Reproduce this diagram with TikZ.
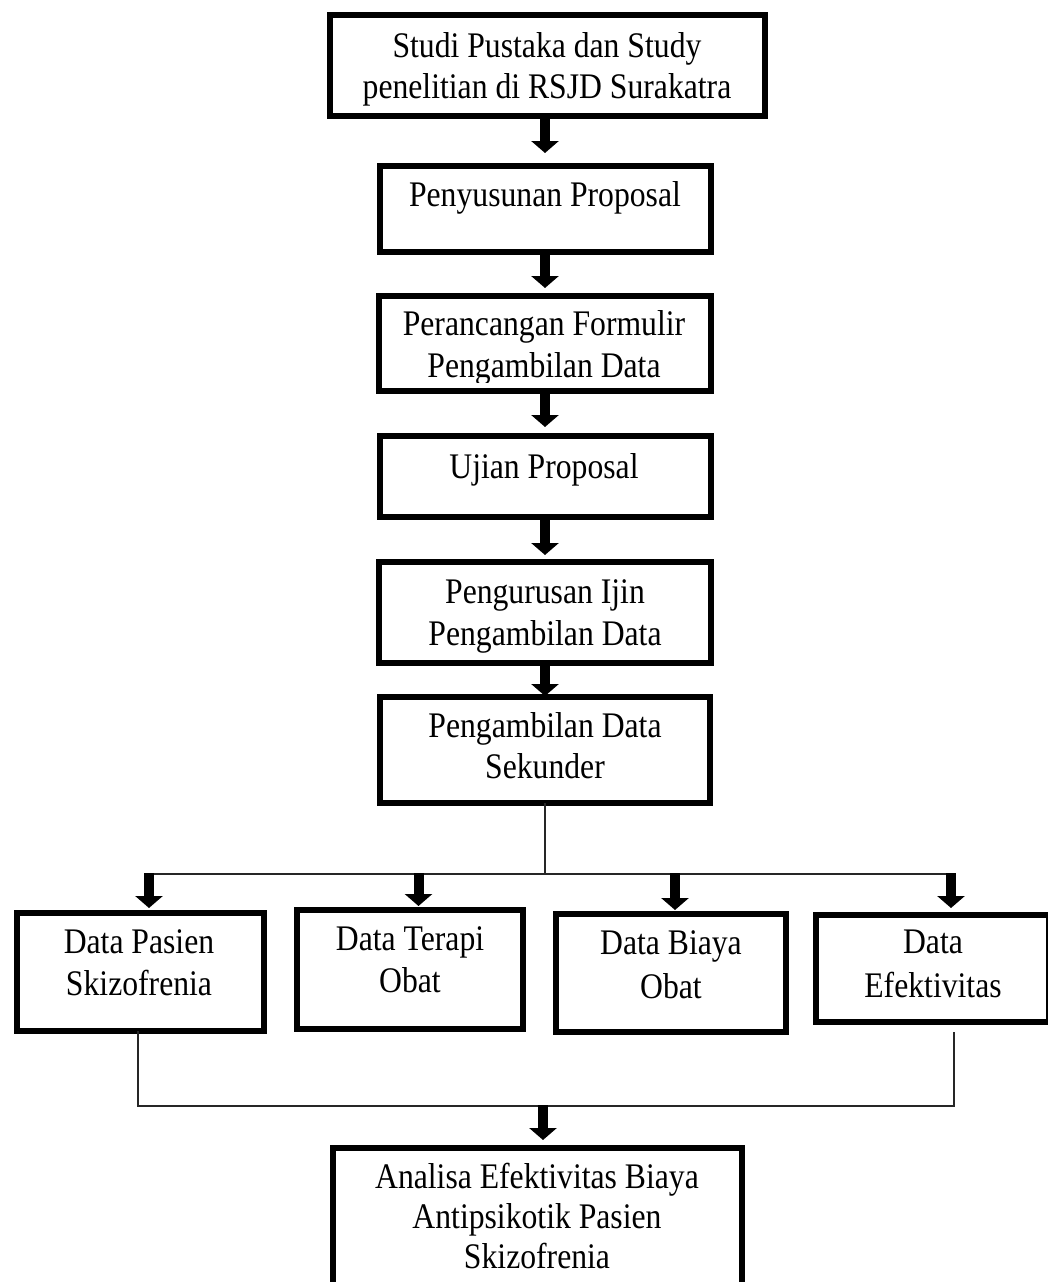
\documentclass[tikz,border=0pt]{standalone}
\usepackage{fontspec}
\setmainfont{Liberation Serif}[FakeStretch=0.88]
\usetikzlibrary{arrows.meta,calc}
\newcommand\mylines[1]{\begin{tabular}[t]{@{}c@{}}#1\end{tabular}}
\begin{document}
\begin{tikzpicture}[x=1pt,y=-1pt,
  box/.style={draw=black, line width=6pt, rectangle, inner sep=0pt, outer sep=0pt},
  txt/.style={anchor=base, inner sep=0pt, outer sep=0pt, font=\fontsize{36}{42}\selectfont},
  bigarrow/.style={line width=10pt, -{Triangle[width=27pt,length=12pt]}},
  thinline/.style={line width=1.6pt, draw=black!85}]
\useasboundingbox (0,0) rectangle (1047,1282);

% boxes
\node[box, minimum width=435pt, minimum height=101pt] (b1) at (547.5,65.5) {};
\node[box, minimum width=331pt, minimum height=86pt]  (b2) at (545,209) {};
\node[box, minimum width=332pt, minimum height=95pt]  (b3) at (545,343.5) {};
\node[box, minimum width=331pt, minimum height=81pt]  (b4) at (545,476.5) {};
\node[box, minimum width=332pt, minimum height=101pt] (b5) at (545,612.5) {};
\node[box, minimum width=330pt, minimum height=106pt] (b6) at (545,750) {};
\node[box, minimum width=247pt, minimum height=118pt] (bA) at (140.5,972) {};
\node[box, minimum width=226pt, minimum height=119pt] (bB) at (410,969.5) {};
\node[box, minimum width=230pt, minimum height=118pt] (bC) at (671,973) {};
\node[box, minimum width=233pt, minimum height=107pt] (bD) at (932.5,968.5) {};
\node[box, minimum width=409pt, minimum height=164pt] (bE) at (537.5,1230) {};

% texts
\node[txt, font=\fontsize{36}{41}\selectfont] (t1) at (547,57) {\mylines{Studi Pustaka dan Study\\penelitian di RSJD Surakatra}};
\node[txt] (t2) at (545,206) {Penyusunan Proposal};
\begin{scope}
  \clip (b3.north west) rectangle ($(b3.south east)+(0,-9)$);
  \node[txt] (t3) at (544,335) {\mylines{Perancangan Formulir\\Pengambilan Data}};
\end{scope}
\node[txt] (t4) at (544,478) {Ujian Proposal};
\node[txt] (t5) at (545,603) {\mylines{Pengurusan Ijin\\Pengambilan Data}};
\node[txt, font=\fontsize{36}{41}\selectfont] (t6) at (545,737) {\mylines{Pengambilan Data\\Sekunder}};
\node[txt] (tA) at (139,953) {\mylines{Data Pasien\\Skizofrenia}};
\node[txt] (tB) at (410,950.5) {\mylines{Data Terapi\\Obat}};
\node[txt, font=\fontsize{36}{43.5}\selectfont] (tC) at (671,954.5) {\mylines{Data Biaya\\Obat}};
\node[txt, font=\fontsize{36}{44}\selectfont] (tD) at (933,953) {\mylines{Data\\Efektivitas}};
\node[txt, font=\fontsize{36}{40}\selectfont] (tE) at (537,1188) {\mylines{Analisa Efektivitas Biaya\\Antipsikotik Pasien\\Skizofrenia}};

% main column arrows
\draw[bigarrow] (b1.south -| b2.north) -- ($(b2.north)+(0,-13)$);
\draw[bigarrow] (b2.south) -- ($(b3.north)+(0,-8)$);
\draw[bigarrow] (b3.south) -- ($(b4.north)+(0,-9)$);
\draw[bigarrow] (b4.south) -- ($(b5.north)+(0,-7)$);
\draw[bigarrow] (b5.south) -- ($(b6.north)+(0,-1)$);

% split to four data boxes
\coordinate (split) at (545,874);
\coordinate (hA) at (149,874);
\coordinate (hB) at (418.5,874);
\coordinate (hC) at (675,874);
\coordinate (hD) at (951,874);
\draw[thinline] (b6.south) -- (split);
\draw[thinline] (hA) -- (hD);
\draw[bigarrow] ($(hA)+(0,-1)$) -- ($(hA |- bA.north)+(0,-5)$);
\draw[bigarrow] ($(hB)+(0,-1)$) -- ($(hB |- bB.north)+(0,-4)$);
\draw[bigarrow] ($(hC)+(0,-1)$) -- ($(hC |- bC.north)+(0,-4)$);
\draw[bigarrow] ($(hD)+(0,-1)$) -- ($(hD |- bD.north)+(0,-7)$);

% join to final box
\coordinate (jL) at (138,1106);
\coordinate (jR) at (954,1106);
\coordinate (jM) at (543,1106);
\draw[thinline] (jL |- bA.south) -- (jL) -- (jR) -- ($(jR |- bD.south)+(0,10)$);
\draw[bigarrow] ($(jM)+(0,-1)$) -- ($(jM |- bE.north)+(0,-8)$);
\end{tikzpicture}
\end{document}
